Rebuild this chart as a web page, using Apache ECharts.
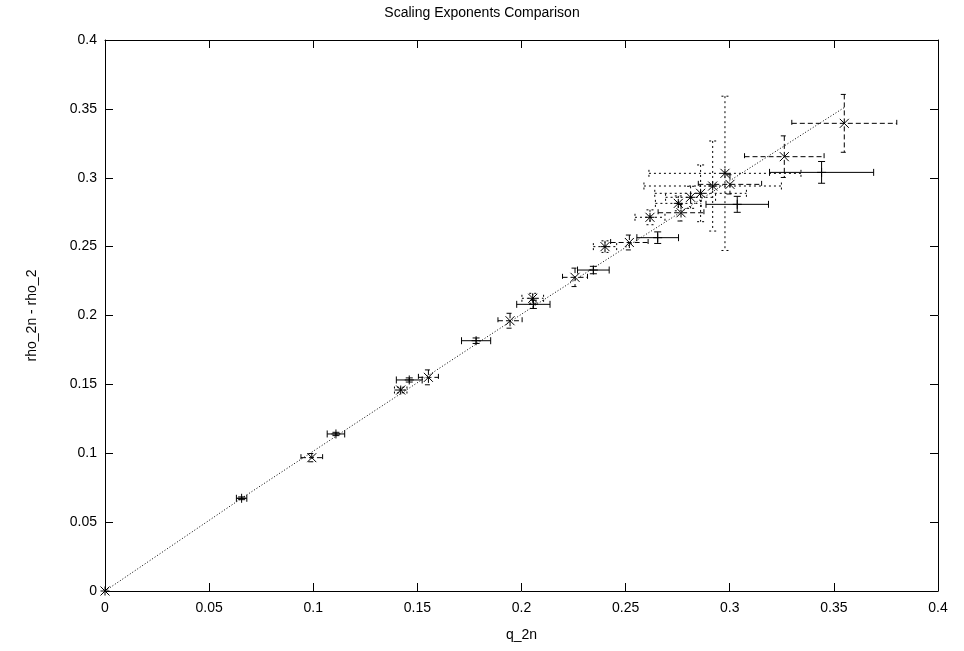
<!DOCTYPE html>
<html>
<head>
<meta charset="utf-8">
<title>Scaling Exponents Comparison</title>
<script src="https://cdn.jsdelivr.net/npm/echarts@6/dist/echarts.min.js"></script>
<style>
  html, body { margin: 0; padding: 0; background: #fff; }
  #chart { width: 964px; height: 651px; }
</style>
</head>
<body>
<div id="chart"></div>
<script>
// Data set A (solid error bars, "+" points)
const solidQ    = [0.0656, 0.1109, 0.1461, 0.1782, 0.2057, 0.2345, 0.2654, 0.3036, 0.3441];
const solidRho  = [0.0673, 0.1140, 0.1532, 0.1817, 0.2081, 0.2330, 0.2565, 0.2807, 0.3039];
const solidDq   = [0.0025, 0.0042, 0.0062, 0.0070, 0.0080, 0.0076, 0.0100, 0.0150, 0.0250];
const solidDrho = [0.0010, 0.0012, 0.0015, 0.0020, 0.0030, 0.0027, 0.0042, 0.0058, 0.0079];

// Data set B (dashed error bars, "x" points)
const dashedQ    = [0.0993, 0.1553, 0.1945, 0.2257, 0.2518, 0.2766, 0.3001, 0.3262, 0.3550];
const dashedRho  = [0.0968, 0.1551, 0.1962, 0.2277, 0.2530, 0.2746, 0.2952, 0.3153, 0.3395];
const dashedDq   = [0.0052, 0.0048, 0.0058, 0.0060, 0.0090, 0.0110, 0.0152, 0.0191, 0.0252];
const dashedDrho = [0.0030, 0.0054, 0.0054, 0.0067, 0.0054, 0.0060, 0.0070, 0.0151, 0.0210];

// Data set C (short-dashed error bars, "*" points)
const dottedQ    = [0.0000, 0.1420, 0.2054, 0.2401, 0.2617, 0.2753, 0.2812, 0.2860, 0.2918, 0.2977];
const dottedRho  = [0.0000, 0.1459, 0.2125, 0.2500, 0.2713, 0.2814, 0.2858, 0.2887, 0.2940, 0.3032];
const dottedDq   = [0.0000, 0.0030, 0.0052, 0.0056, 0.0072, 0.0110, 0.0120, 0.0220, 0.0330, 0.0365];
const dottedDrho = [0.0000, 0.0020, 0.0036, 0.0042, 0.0054, 0.0054, 0.0080, 0.0206, 0.0327, 0.0560];

// Reference curve
const refQ   = [0, 0.0656, 0.2055, 0.3550];
const refRho = [0, 0.0673, 0.2064, 0.3510];

// Axis ticks
const axisMin = 0, axisMax = 0.4, axisStep = 0.05;

function rows(q, rho, dq, drho) {
  return q.map((v, i) => [v, rho[i], dq[i], drho[i]]);
}

const FONT = '"Liberation Sans", Arial, Helvetica, sans-serif';

// Draws one xy error bar with end caps plus the point symbol
function errorBarRenderer(marker, dash) {
  const cap = 3.5, m = 4.5;
  return function (params, api) {
    const x = api.value(0), y = api.value(1), dx = api.value(2), dy = api.value(3);
    const c = api.coord([x, y]);
    const l = api.coord([x - dx, y])[0], r = api.coord([x + dx, y])[0];
    const b = api.coord([x, y - dy])[1], t = api.coord([x, y + dy])[1];
    const bar = { stroke: '#000', lineWidth: 1, lineDash: dash, fill: null };
    const pt = { stroke: '#000', lineWidth: 1, fill: null };
    const line = (x1, y1, x2, y2, s) => ({ type: 'line', shape: { x1, y1, x2, y2 }, style: s });
    const children = [];
    if (dx > 0) {
      children.push(line(l, c[1], r, c[1], bar));
      children.push(line(l, c[1] - cap, l, c[1] + cap, bar));
      children.push(line(r, c[1] - cap, r, c[1] + cap, bar));
    }
    if (dy > 0) {
      children.push(line(c[0], t, c[0], b, bar));
      children.push(line(c[0] - cap, t, c[0] + cap, t, bar));
      children.push(line(c[0] - cap, b, c[0] + cap, b, bar));
    }
    if (marker === 'plus' || marker === 'star') {
      children.push(line(c[0] - m, c[1], c[0] + m, c[1], pt));
      children.push(line(c[0], c[1] - m, c[0], c[1] + m, pt));
    }
    if (marker === 'cross' || marker === 'star') {
      children.push(line(c[0] - m, c[1] - m, c[0] + m, c[1] + m, pt));
      children.push(line(c[0] - m, c[1] + m, c[0] + m, c[1] - m, pt));
    }
    return { type: 'group', children };
  };
}

const chart = echarts.init(document.getElementById('chart'), null, { renderer: 'canvas' });

const tickLabel = { color: '#000', fontFamily: FONT, fontSize: 14 };
const baseAxis = {
  type: 'value', min: axisMin, max: axisMax, interval: axisStep,
  splitLine: { show: false },
  axisLine: { show: true, onZero: false, lineStyle: { color: '#000', width: 1 } },
  axisTick: { show: true, inside: true, length: 8, lineStyle: { color: '#000' } }
};

chart.setOption({
  animation: false,
  backgroundColor: '#fff',
  title: {
    text: 'Scaling Exponents Comparison',
    left: 'center', top: 1,
    textStyle: { color: '#000', fontFamily: FONT, fontSize: 14, fontWeight: 'normal' }
  },
  grid: { left: 105, right: 26, top: 40, bottom: 60 },
  xAxis: [
    Object.assign({}, baseAxis, {
      position: 'bottom',
      name: 'q_2n', nameLocation: 'middle', nameGap: 37,
      nameTextStyle: { color: '#000', fontFamily: FONT, fontSize: 14 },
      axisLabel: Object.assign({ margin: 10, formatter: v => String(+v.toFixed(2)) }, tickLabel)
    }),
    Object.assign({}, baseAxis, { position: 'top', axisLabel: { show: false } })
  ],
  yAxis: [
    Object.assign({}, baseAxis, {
      position: 'left',
      name: 'rho_2n - rho_2', nameLocation: 'middle', nameGap: 66, nameRotate: 90,
      nameTextStyle: { color: '#000', fontFamily: FONT, fontSize: 14 },
      axisLabel: Object.assign({ margin: 8, formatter: v => String(+v.toFixed(2)) }, tickLabel)
    }),
    Object.assign({}, baseAxis, { position: 'right', axisLabel: { show: false } })
  ],
  series: [
    {
      type: 'line', xAxisIndex: 0, yAxisIndex: 0,
      data: refQ.map((v, i) => [v, refRho[i]]),
      showSymbol: false, smooth: false,
      lineStyle: { color: '#000', width: 1, type: [1, 2] },
      z: 1
    },
    {
      type: 'custom', xAxisIndex: 0, yAxisIndex: 0,
      renderItem: errorBarRenderer('star', [2, 3]),
      data: rows(dottedQ, dottedRho, dottedDq, dottedDrho),
      encode: { x: 0, y: 1 }, clip: false, z: 2
    },
    {
      type: 'custom', xAxisIndex: 0, yAxisIndex: 0,
      renderItem: errorBarRenderer('cross', [5, 3]),
      data: rows(dashedQ, dashedRho, dashedDq, dashedDrho),
      encode: { x: 0, y: 1 }, clip: false, z: 3
    },
    {
      type: 'custom', xAxisIndex: 0, yAxisIndex: 0,
      renderItem: errorBarRenderer('plus', null),
      data: rows(solidQ, solidRho, solidDq, solidDrho),
      encode: { x: 0, y: 1 }, clip: false, z: 4
    }
  ]
});
</script>
</body>
</html>
